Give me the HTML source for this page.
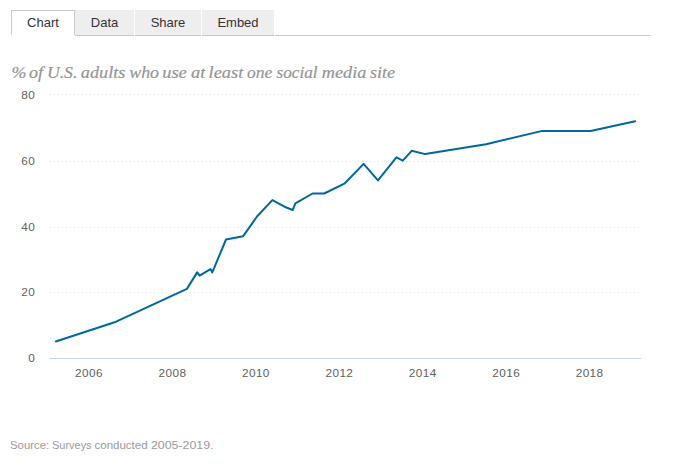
<!DOCTYPE html>
<html><head><meta charset="utf-8"><title>Social media use</title>
<style>
html,body{margin:0;padding:0;background:#fff;}
body{width:676px;height:468px;position:relative;overflow:hidden;font-family:"Liberation Sans",sans-serif;}
.tabline{position:absolute;left:75px;top:35px;width:576px;height:1px;background:#c9c9c9;}
.tab{position:absolute;top:10px;height:25px;background:#eeeeee;color:#333;font-size:13px;line-height:25px;text-align:center;white-space:nowrap;}
.tab.active{background:#fff;border:1px solid #c9c9c9;border-bottom:none;height:25px;line-height:23px;box-sizing:border-box;height:25px;}
.sep{position:absolute;top:10px;width:1px;height:26px;background:#fff;}
svg text.tw{font-family:"Liberation Serif",serif;font-style:italic;fill:#959595;stroke:#959595;stroke-width:0.2px;letter-spacing:0;}
.sw{position:absolute;top:438px;font-size:11.5px;color:#999;white-space:nowrap;line-height:14px;transform-origin:0 0;}
svg{position:absolute;left:0;top:0;}
svg text{font-family:"Liberation Sans",sans-serif;font-size:11px;fill:#606060;letter-spacing:0.4px;}
</style></head><body>
<div class="tab active" style="left:11px;width:64px;">Chart</div>
<div class="tab" style="left:75px;width:59px;">Data</div>
<div class="tab" style="left:135px;width:66px;">Share</div>
<div class="tab" style="left:202px;width:72px;">Embed</div>
<div class="tabline"></div>
<div class="sep" style="left:134px"></div>
<div class="sep" style="left:201px"></div>
<div class="sep" style="left:274px"></div>
<svg width="676" height="468" viewBox="0 0 676 468">
<text class="tw" transform="translate(11.51,77.8) scale(1.092,1)" style="font-size:16.4px">%</text>
<text class="tw" transform="translate(29.10,77.8) scale(1.038,1)" style="font-size:17.4px">of</text>
<text class="tw" transform="translate(46.92,77.8) scale(1.077,1)" style="font-size:16.4px">U.S.</text>
<text class="tw" transform="translate(80.80,77.8) scale(1.048,1)" style="font-size:17.4px">adults</text>
<text class="tw" transform="translate(129.20,77.8) scale(1.031,1)" style="font-size:17.4px">who</text>
<text class="tw" transform="translate(162.24,77.8) scale(1.059,1)" style="font-size:17.4px">use</text>
<text class="tw" transform="translate(191.10,77.8) scale(1.057,1)" style="font-size:17.4px">at</text>
<text class="tw" transform="translate(208.54,77.8) scale(1.059,1)" style="font-size:17.4px">least</text>
<text class="tw" transform="translate(247.10,77.8) scale(1.004,1)" style="font-size:17.4px">one</text>
<text class="tw" transform="translate(276.60,77.8) scale(0.988,1)" style="font-size:17.4px">social</text>
<text class="tw" transform="translate(321.80,77.8) scale(1.050,1)" style="font-size:17.4px">media</text>
<text class="tw" transform="translate(370.00,77.8) scale(1.033,1)" style="font-size:17.4px">site</text>
<line x1="50" x2="641" y1="94.5" y2="94.5" stroke="#dfe1e5" stroke-width="1" stroke-dasharray="1,3"/>
<line x1="50" x2="641" y1="161.5" y2="161.5" stroke="#dfe1e5" stroke-width="1" stroke-dasharray="1,3"/>
<line x1="50" x2="641" y1="227.5" y2="227.5" stroke="#dfe1e5" stroke-width="1" stroke-dasharray="1,3"/>
<line x1="50" x2="641" y1="292.5" y2="292.5" stroke="#dfe1e5" stroke-width="1" stroke-dasharray="1,3"/>
<line x1="50" x2="641" y1="358.5" y2="358.5" stroke="#c4d8ee" stroke-width="1"/>
<text transform="translate(35.3,99.0) scale(1.07,1)" text-anchor="end">80</text>
<text transform="translate(35.3,165.0) scale(1.07,1)" text-anchor="end">60</text>
<text transform="translate(35.3,231.0) scale(1.07,1)" text-anchor="end">40</text>
<text transform="translate(35.3,296.0) scale(1.07,1)" text-anchor="end">20</text>
<text transform="translate(35.3,362.0) scale(1.07,1)" text-anchor="end">0</text>
<text transform="translate(89.0,377) scale(1.07,1)" text-anchor="middle">2006</text>
<text transform="translate(172.5,377) scale(1.07,1)" text-anchor="middle">2008</text>
<text transform="translate(255.9,377) scale(1.07,1)" text-anchor="middle">2010</text>
<text transform="translate(339.4,377) scale(1.07,1)" text-anchor="middle">2012</text>
<text transform="translate(422.8,377) scale(1.07,1)" text-anchor="middle">2014</text>
<text transform="translate(506.2,377) scale(1.07,1)" text-anchor="middle">2016</text>
<text transform="translate(589.6,377) scale(1.07,1)" text-anchor="middle">2018</text>
<path d="M55.8 341.5 L116.1 321.7 L186.9 288.9 L197.2 272.4 L199.6 275.7 L210.5 269.1 L212.3 272.4 L226.0 239.5 L243.0 236.3 L257.0 216.5 L272.4 200.1 L284.5 206.7 L292.7 210.0 L295.4 203.4 L312.6 193.5 L324.2 193.5 L344.4 183.7 L363.6 163.9 L378.0 180.4 L396.4 157.4 L402.8 160.7 L411.7 150.8 L425.2 154.1 L486.0 144.2 L541.2 131.1 L590.6 131.1 L635.2 121.2" fill="none" stroke="#00689c" stroke-width="2" stroke-linejoin="round" stroke-linecap="round"/>
</svg>
<span class="sw" style="left:10.2px;transform:scaleX(0.987)">Source:</span><span class="sw" style="left:51.9px;transform:scaleX(0.953)">Surveys</span><span class="sw" style="left:94.5px">conducted</span><span class="sw" style="left:151.4px;transform:scaleX(1.074)">2005-2019.</span>
</body></html>
